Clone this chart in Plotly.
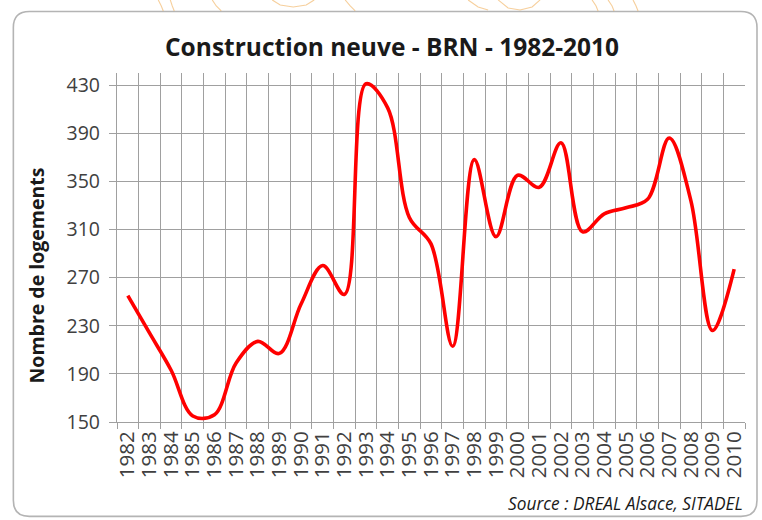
import plotly.graph_objects as go

# Construction neuve - BRN (nombre de logements par année)
years = [str(y) for y in range(1982, 2011)]
logements = [255, 224, 193, 155, 156, 199, 217, 207, 248, 280,
             256, 431, 411, 320, 298, 213, 368, 304, 355, 345,
             382, 308, 323, 328, 335, 386, 334, 226, 277]
y_ticks = [150, 190, 230, 270, 310, 350, 390, 430]

W, H = 762, 520
PL, PR, PT, PB = 116.7, 745.0, 73.0, 421.7   # plot area in pixels


def px(x, y):
    """Pixel position -> paper coordinates."""
    return (x - PL) / (PR - PL), (PB - y) / (PB - PT)


def rounded_rect(x0, y0, x1, y1, r):
    def p(x, y):
        a, b = px(x, y)
        return f"{a:.5f},{b:.5f}"
    d = f"M {p(x0 + r, y0)} L {p(x1 - r, y0)} Q {p(x1, y0)} {p(x1, y0 + r)} "
    d += f"L {p(x1, y1 - r)} Q {p(x1, y1)} {p(x1 - r, y1)} "
    d += f"L {p(x0 + r, y1)} Q {p(x0, y1)} {p(x0, y1 - r)} "
    d += f"L {p(x0, y0 + r)} Q {p(x0, y0)} {p(x0 + r, y0)} Z"
    return d


def curve(points):
    d = ""
    for i, (x, y) in enumerate(points):
        a, b = px(x, y)
        d += ("M " if i == 0 else " L ") + f"{a:.5f},{b:.5f}"
    return d


fig = go.Figure()
fig.add_trace(go.Scatter(
    x=years, y=logements, mode="lines",
    line=dict(color="#ff0000", width=3.6, shape="spline", smoothing=1.0),
    hoverinfo="x+y", showlegend=False,
))

shapes = [dict(type="path", xref="paper", yref="paper",
               path=rounded_rect(13, 11.5, 757, 516, 16),
               line=dict(color="#b4b4b4", width=1.6), layer="below")]

# faint sketch strokes above the frame
orange = "rgba(240,175,90,0.6)"
sketches = [
    [(158, 0), (161, 6), (163, 11)],
    [(170, 0), (172, 6), (174, 11)],
    [(212, 0), (216, 6), (221, 11)],
    [(272, 0), (280, 5), (293, 7), (306, 5), (314, 0)],
    [(345, 0), (350, 6), (355, 11)],
    [(468, 0), (478, 7), (488, 10)],
    [(498, 0), (508, 8), (520, 10), (532, 7), (540, 0)],
    [(592, 0), (596, 6), (598, 11)],
    [(608, 0), (612, 6), (614, 11)],
    [(633, 0), (636, 6), (638, 11)],
]
for s in sketches:
    shapes.append(dict(type="path", xref="paper", yref="paper", path=curve(s),
                       line=dict(color=orange, width=1.1), layer="below"))

grid = "#a0a0a0"
fig.update_layout(
    width=W, height=H,
    margin=dict(l=PL, r=W - PR, t=PT, b=H - PB),
    paper_bgcolor="white", plot_bgcolor="white",
    font=dict(family="'Open Sans', Lato, sans-serif", color="#404040"),
    shapes=shapes,
    xaxis=dict(
        type="category", tickson="boundaries", range=[-0.5, 28.5],
        tickmode="array", tickvals=years, ticktext=years,
        showgrid=True, gridcolor=grid, gridwidth=1.3,
        ticks="outside", ticklen=6, tickcolor=grid, tickwidth=1.3,
        showline=True, linecolor=grid, linewidth=1.3,
        tickangle=-90, tickfont=dict(size=20.5, color="#404040"),
        fixedrange=True,
    ),
    yaxis=dict(
        range=[150, 440], tickvals=y_ticks, ticktext=[str(v) for v in y_ticks],
        showgrid=True, gridcolor=grid, gridwidth=1.3,
        ticks="outside", ticklen=7, tickcolor=grid, tickwidth=1.3,
        showline=True, linecolor=grid, linewidth=1.3,
        tickfont=dict(size=19.5, color="#404040"), ticklabelstandoff=5,
        zeroline=False, fixedrange=True,
    ),
    annotations=[
        dict(text="<b>Construction neuve - BRN - 1982-2010</b>",
             xref="paper", yref="paper", x=px(392, 0)[0], y=px(0, 47)[1],
             xanchor="center", yanchor="middle", showarrow=False,
             font=dict(size=24.5, color="#1a1a1a")),
        dict(text="<b>Nombre de logements</b>", textangle=-90,
             xref="paper", yref="paper", x=px(36, 0)[0], y=px(0, 275)[1],
             xanchor="center", yanchor="middle", showarrow=False,
             font=dict(size=19.5, color="#1a1a1a")),
        dict(text="<i>Source : DREAL Alsace, SITADEL</i>",
             xref="paper", yref="paper", x=px(745, 0)[0], y=px(0, 503)[1],
             xanchor="right", yanchor="middle", showarrow=False,
             font=dict(size=17.3, color="#1a1a1a")),
    ],
)

fig.write_html("out.html")
